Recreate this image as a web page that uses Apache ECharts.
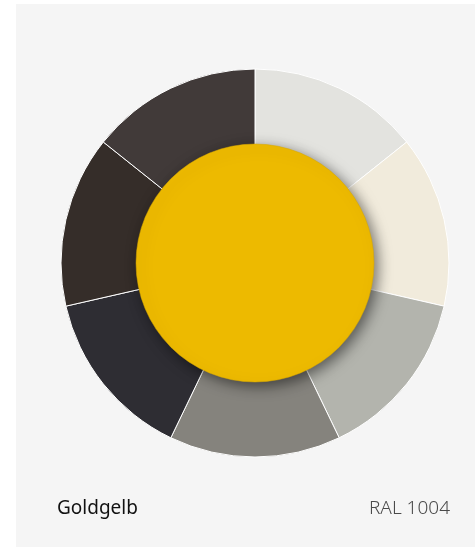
<!DOCTYPE html>
<html>
<head>
<meta charset="utf-8">
<script src="https://cdn.jsdelivr.net/npm/echarts@6/dist/echarts.min.js"></script>
<style>
  html, body { margin: 0; padding: 0; background: #ffffff; }
  #chart { width: 475px; height: 547px; }
</style>
</head>
<body>
<div id="chart"></div>
<script>
// Farbkreis-Segmente, im Uhrzeigersinn ab 12 Uhr
const segmentNames = ['Hellgrau', 'Creme', 'Steingrau', 'Kieselgrau', 'Anthrazit', 'Dunkelbraun', 'Graubraun']
const segmentValues = [1, 1, 1, 1, 1, 1, 1]
const segmentColors = ['#e3e3df', '#f1ebdc', '#b3b4ad', '#85837d', '#2e2d33', '#352d29', '#413a39']

const centerName = 'Goldgelb'
const centerCode = 'RAL 1004'
const centerColor = '#edba00'

const chart = echarts.init(document.getElementById('chart'))

const option = {
  backgroundColor: '#ffffff',
  animation: false,
  graphic: [
    {
      type: 'rect',
      shape: { x: 16, y: 4, width: 459, height: 543 },
      style: { fill: '#f5f5f5' },
      z: -10
    },
    {
      type: 'text',
      left: 57,
      top: 499,
      style: {
        text: centerName,
        fill: '#111111',
        font: '400 19px "Noto Sans", sans-serif'
      }
    },
    {
      type: 'text',
      right: 25,
      top: 499,
      style: {
        text: centerCode,
        fill: '#4a4a4a',
        font: '300 19px "Noto Sans", sans-serif'
      }
    }
  ],
  series: [
    {
      type: 'pie',
      center: [255, 263],
      radius: [60, 194],
      startAngle: 90,
      clockwise: true,
      silent: true,
      label: { show: false },
      labelLine: { show: false },
      itemStyle: {
        borderColor: '#ffffff',
        borderWidth: 1
      },
      data: segmentNames.map((name, i) => ({
        name: name,
        value: segmentValues[i],
        itemStyle: { color: segmentColors[i] }
      }))
    },
    {
      type: 'pie',
      center: [255, 263],
      radius: [0, 119],
      silent: true,
      label: { show: false },
      labelLine: { show: false },
      itemStyle: {
        color: centerColor,
        borderColor: '#d9a900',
        borderWidth: 0.5,
        shadowBlur: 14,
        shadowOffsetX: 4,
        shadowOffsetY: 4,
        shadowColor: 'rgba(0, 0, 0, 0.5)'
      },
      data: [{ name: centerName, value: 1 }]
    }
  ]
}

chart.setOption(option)
</script>
</body>
</html>
